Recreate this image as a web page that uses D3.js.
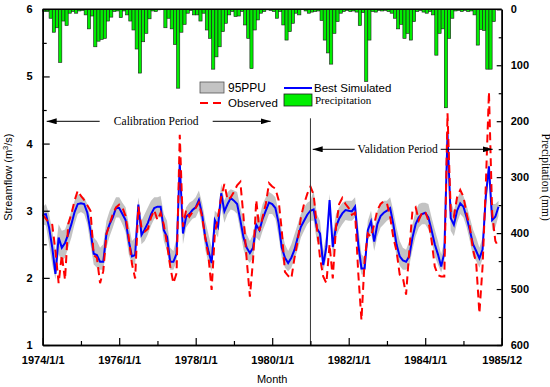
<!DOCTYPE html>
<html>
<head>
<meta charset="utf-8">
<script src="https://cdn.jsdelivr.net/npm/d3@7/dist/d3.min.js"></script>
<style>
  body { margin: 0; background: #fff; }
  text { font-family: "Liberation Sans", Arial, sans-serif; }
  .serif { font-family: "Liberation Serif", "Times New Roman", serif; }
</style>
</head>
<body>
<div id="chartContainer"></div>
<script>
// Axis labels
const xTickLabels = ["1974/1/1", "1976/1/1", "1978/1/1", "1980/1/1", "1982/1/1", "1984/1/1", "1985/12"];
const xTickMonths = [0, 24, 48, 72, 96, 120, 144];
const xMinorMonths = [12, 36, 60, 84, 108, 132];
const flowTicks = [1, 2, 3, 4, 5, 6];
const flowMinor = [1.5, 2.5, 3.5, 4.5, 5.5];
const precipTicks = [0, 100, 200, 300, 400, 500, 600];
const precipMinor = [50, 150, 250, 350, 450, 550];

// Monthly series, 1974/1 .. 1985/12 (one year per row)
const precipitation = [
  4, 4, 16, 41, 33, 95, 21, 29, 7, 4, 7, 3,
  2, 10, 35, 12, 67, 57, 54, 52, 21, 14, 4, 3,
  15, 3, 10, 21, 37, 71, 114, 58, 43, 17, 3, 4,
  1, 0, 33, 16, 35, 63, 141, 41, 27, 7, 2, 10,
  10, 21, 7, 37, 52, 107, 85, 67, 40, 25, 10, 4,
  13, 12, 4, 28, 52, 106, 37, 19, 7, 4, 1, 2,
  4, 16, 4, 28, 55, 40, 25, 7, 10, 0, 3, 7,
  5, 4, 3, 20, 55, 78, 98, 43, 22, 7, 4, 2,
  4, 3, 5, 29, 6, 129, 55, 4, 5, 2, 3, 2,
  4, 7, 16, 35, 27, 52, 43, 55, 22, 4, 2, 5,
  7, 4, 10, 82, 43, 35, 176, 52, 16, 3, 2, 4,
  2, 4, 3, 10, 64, 36, 38, 107, 107, 22, 0, 0
];

const observed = [
  2.94, 2.88, 2.82, 2.79, 2.40, 1.92, 2.34, 1.97, 2.80, 2.95, 3.15, 3.30,
  3.22, 3.16, 3.08, 3.00, 2.34, 2.30, 1.92, 2.10, 2.65, 2.80, 2.95, 3.05,
  3.09, 3.05, 2.92, 2.60, 2.21, 1.99, 3.06, 2.75, 2.69, 2.73, 2.90, 3.01,
  2.86, 2.97, 2.79, 2.50, 2.17, 1.92, 2.07, 4.13, 2.76, 3.01, 2.91, 2.98,
  3.04, 3.12, 2.91, 2.60, 2.32, 1.82, 2.66, 2.91, 3.20, 3.40, 3.16, 3.20,
  3.28, 3.38, 3.43, 2.91, 2.27, 1.72, 2.27, 3.16, 2.70, 2.91, 3.10, 3.41,
  3.36, 3.33, 3.16, 2.71, 2.09, 2.03, 1.99, 2.30, 2.55, 2.90, 3.10, 3.25,
  3.36, 3.24, 2.76, 2.30, 2.02, 1.92, 2.50, 1.99, 2.75, 3.10, 3.19, 3.10,
  3.04, 2.94, 2.97, 2.07, 1.37, 2.27, 2.66, 2.61, 2.80, 3.01, 3.10, 3.14,
  3.11, 2.91, 2.60, 2.40, 2.05, 2.00, 1.75, 2.40, 3.00, 3.05, 2.86, 2.97,
  2.99, 2.85, 2.56, 2.17, 2.04, 2.02, 2.02, 4.45, 3.00, 2.91, 3.20, 3.31,
  3.21, 2.95, 2.76, 2.42, 2.22, 1.47, 2.17, 3.36, 4.77, 2.97, 2.55, 2.46
];

const simulated = [
  2.94, 2.95, 2.75, 2.45, 2.06, 2.60, 2.45, 2.52, 2.65, 2.80, 2.98, 3.10,
  3.11, 3.10, 2.97, 2.70, 2.36, 2.34, 2.24, 2.24, 2.66, 2.80, 2.90, 3.04,
  3.04, 2.95, 2.86, 2.55, 2.32, 2.34, 3.09, 2.64, 2.72, 2.82, 2.95, 3.04,
  3.06, 3.06, 2.71, 2.61, 2.24, 2.24, 2.36, 3.71, 2.66, 2.91, 2.95, 3.01,
  3.05, 3.16, 2.95, 2.60, 2.40, 2.22, 2.86, 2.76, 3.26, 2.99, 3.10, 3.19,
  3.15, 3.10, 2.86, 2.60, 2.45, 2.37, 2.45, 2.79, 2.71, 2.88, 3.00, 3.12,
  3.10, 3.04, 2.82, 2.45, 2.30, 2.22, 2.30, 2.42, 2.60, 2.76, 2.85, 2.94,
  3.00, 3.02, 2.74, 2.66, 2.19, 2.46, 3.16, 2.46, 2.76, 2.88, 2.96, 3.01,
  3.00, 2.99, 3.06, 2.50, 2.14, 2.14, 2.71, 2.84, 2.54, 2.80, 2.92, 2.97,
  3.00, 3.04, 2.80, 2.50, 2.32, 2.26, 2.24, 2.32, 2.60, 2.80, 2.90, 2.95,
  2.97, 2.90, 2.71, 2.50, 2.35, 2.17, 2.37, 4.15, 2.89, 2.79, 3.00, 3.11,
  3.06, 2.90, 2.71, 2.50, 2.40, 2.29, 2.42, 3.21, 3.66, 2.86, 2.91, 3.06
];

const ppuUpper = [
  3.05, 3.10, 2.95, 2.70, 2.40, 2.80, 2.70, 2.72, 2.85, 3.00, 3.15, 3.25,
  3.22, 3.20, 3.10, 2.90, 2.60, 2.55, 2.45, 2.50, 2.85, 3.00, 3.10, 3.20,
  3.20, 3.12, 3.05, 2.80, 2.55, 2.60, 3.20, 2.85, 2.95, 3.05, 3.15, 3.20,
  3.20, 3.22, 2.95, 2.85, 2.45, 2.40, 2.60, 3.80, 2.85, 3.05, 3.12, 3.15,
  3.20, 3.30, 3.12, 2.85, 2.65, 2.45, 3.00, 2.95, 3.40, 3.15, 3.28, 3.32,
  3.30, 3.28, 3.05, 2.85, 2.65, 2.55, 2.65, 2.95, 2.90, 3.10, 3.20, 3.28,
  3.25, 3.20, 3.00, 2.70, 2.50, 2.40, 2.50, 2.65, 2.80, 2.95, 3.05, 3.12,
  3.15, 3.30, 2.95, 2.85, 2.40, 2.65, 3.25, 2.65, 2.95, 3.05, 3.12, 3.15,
  3.15, 3.15, 3.20, 2.75, 2.35, 2.30, 2.85, 3.00, 2.72, 3.00, 3.10, 3.15,
  3.15, 3.20, 3.00, 2.75, 2.55, 2.45, 2.42, 2.55, 2.80, 3.00, 3.10, 3.12,
  3.12, 3.10, 2.90, 2.72, 2.55, 2.35, 2.55, 4.25, 3.15, 3.00, 3.18, 3.28,
  3.22, 3.08, 2.90, 2.72, 2.60, 2.45, 2.60, 3.35, 3.75, 3.10, 3.10, 3.15
];

const ppuLower = [
  2.80, 2.78, 2.50, 2.20, 1.98, 2.35, 2.25, 2.30, 2.45, 2.60, 2.80, 2.95,
  2.98, 2.95, 2.80, 2.50, 2.20, 2.15, 2.12, 2.12, 2.45, 2.62, 2.75, 2.90,
  2.90, 2.80, 2.68, 2.35, 2.20, 2.20, 2.90, 2.50, 2.55, 2.65, 2.78, 2.88,
  2.90, 2.90, 2.55, 2.40, 2.12, 2.12, 2.25, 3.55, 2.50, 2.75, 2.82, 2.88,
  2.90, 3.00, 2.78, 2.42, 2.22, 2.10, 2.68, 2.60, 3.05, 2.82, 2.95, 3.02,
  3.00, 2.95, 2.70, 2.42, 2.28, 2.22, 2.30, 2.60, 2.55, 2.70, 2.82, 2.95,
  2.95, 2.88, 2.62, 2.30, 2.15, 2.10, 2.15, 2.28, 2.42, 2.60, 2.70, 2.80,
  2.85, 2.85, 2.55, 2.50, 2.10, 2.30, 3.00, 2.32, 2.60, 2.72, 2.80, 2.86,
  2.85, 2.85, 2.90, 2.32, 2.05, 2.05, 2.55, 2.68, 2.40, 2.62, 2.75, 2.80,
  2.85, 2.88, 2.62, 2.32, 2.18, 2.12, 2.12, 2.18, 2.42, 2.62, 2.75, 2.80,
  2.80, 2.72, 2.55, 2.32, 2.20, 2.08, 2.22, 4.00, 2.70, 2.62, 2.82, 2.95,
  2.90, 2.75, 2.55, 2.32, 2.25, 2.15, 2.28, 3.05, 3.50, 2.70, 2.75, 2.92
];

// Set chart dimensions
const w = 550;
const h = 387;
const margins = { top: 9.3, left: 42.7, right: 48.3, bottom: 42 };
const innerWidth = w - margins.left - margins.right;
const innerHeight = h - margins.top - margins.bottom;

const svg = d3.select("#chartContainer")
  .append("svg")
    .attr("width", w)
    .attr("height", h);

const defs = svg.append("defs");
defs.append("marker")
    .attr("id", "arrow")
    .attr("viewBox", "0 0 10 6")
    .attr("refX", 10)
    .attr("refY", 3)
    .attr("markerWidth", 10)
    .attr("markerHeight", 6)
    .attr("markerUnits", "userSpaceOnUse")
    .attr("orient", "auto-start-reverse")
  .append("path")
    .attr("d", "M0,0 L10,3 L0,6 Z")
    .attr("fill", "#000");

const mainG = svg.append("g")
  .attr("transform", `translate(${margins.left}, ${margins.top})`);

// Scales
const xScale = d3.scaleLinear().domain([0, 144]).range([0, innerWidth]);
const yFlow = d3.scaleLinear().domain([1, 6]).range([innerHeight, 0]);
const yPrecip = d3.scaleLinear().domain([0, 600]).range([0, innerHeight]);

// 95PPU band
const band = d3.area()
  .x((d, i) => xScale(i))
  .y0((d, i) => yFlow(ppuLower[i]))
  .y1(d => yFlow(d));

mainG.append("path")
  .datum(ppuUpper)
  .attr("d", band)
  .attr("fill", "#c3c3c3");

// Precipitation bars hanging from the top
mainG.selectAll(".bar")
  .data(precipitation)
  .enter()
  .append("rect")
    .attr("class", "bar")
    .attr("x", (d, i) => xScale(i))
    .attr("y", 0)
    .attr("width", xScale(1) - xScale(0))
    .attr("height", d => yPrecip(d))
    .attr("fill", "#00ee00")
    .attr("stroke", "#1a1a1a")
    .attr("stroke-width", 0.6);

// Best simulated
const line = d3.line()
  .x((d, i) => xScale(i))
  .y(d => yFlow(d));

mainG.append("path")
  .datum(simulated)
  .attr("d", line)
  .attr("fill", "none")
  .attr("stroke", "#0000ff")
  .attr("stroke-width", 2);

// Observed
mainG.append("path")
  .datum(observed)
  .attr("d", line)
  .attr("fill", "none")
  .attr("stroke", "#ff0000")
  .attr("stroke-width", 2)
  .attr("stroke-dasharray", "8,5");

// Calibration / validation split
const splitX = xScale(84);
mainG.append("line")
  .attr("x1", splitX).attr("x2", splitX)
  .attr("y1", 109).attr("y2", innerHeight)
  .attr("stroke", "#333")
  .attr("stroke-width", 1);

// Period labels with arrows
function periodArrow(x1, x2, y) {
  mainG.append("line")
    .attr("x1", x1).attr("x2", x2)
    .attr("y1", y).attr("y2", y)
    .attr("stroke", "#000")
    .attr("stroke-width", 1)
    .attr("marker-end", "url(#arrow)");
}
periodArrow(57, 4, 112);
periodArrow(170, 228, 112);
mainG.append("text")
  .attr("class", "serif")
  .attr("x", 113.5).attr("y", 116)
  .attr("text-anchor", "middle")
  .attr("font-size", 11.5)
  .text("Calibration Period");

periodArrow(312, 270, 140);
periodArrow(398, 450, 140);
mainG.append("text")
  .attr("class", "serif")
  .attr("x", 355).attr("y", 144)
  .attr("text-anchor", "middle")
  .attr("font-size", 11.5)
  .text("Validation Period");

// Axes
const axisStyle = g => {
  g.select(".domain").attr("stroke-width", 1.5);
  g.selectAll(".tick line").attr("stroke-width", 1.2);
  g.selectAll("text")
    .attr("font-size", 11)
    .attr("font-weight", "bold")
    .attr("font-family", "'Liberation Sans', Arial, sans-serif")
    .attr("fill", "#000");
};

mainG.append("g")
  .call(d3.axisLeft(yFlow).tickValues(flowTicks).tickSize(-7).tickSizeOuter(0).tickPadding(10).tickFormat(d3.format("d")))
  .call(axisStyle);
mainG.append("g")
  .call(d3.axisLeft(yFlow).tickValues(flowMinor).tickSize(-4).tickSizeOuter(0).tickFormat(""))
  .call(axisStyle);

mainG.append("g")
  .attr("transform", `translate(${innerWidth}, 0)`)
  .call(d3.axisRight(yPrecip).tickValues(precipTicks).tickSize(-5).tickSizeOuter(0).tickPadding(9))
  .call(axisStyle);
mainG.append("g")
  .attr("transform", `translate(${innerWidth}, 0)`)
  .call(d3.axisRight(yPrecip).tickValues(precipMinor).tickSize(-3).tickSizeOuter(0).tickFormat(""))
  .call(axisStyle);

mainG.append("g")
  .attr("transform", `translate(0, ${innerHeight})`)
  .call(d3.axisBottom(xScale).tickValues(xTickMonths).tickSize(-7).tickSizeOuter(0).tickPadding(11)
    .tickFormat((d, i) => xTickLabels[i]))
  .call(axisStyle);
mainG.append("g")
  .attr("transform", `translate(0, ${innerHeight})`)
  .call(d3.axisBottom(xScale).tickValues(xMinorMonths).tickSize(-4).tickSizeOuter(0).tickFormat(""))
  .call(axisStyle);

// Top frame
mainG.append("line")
  .attr("x1", 0).attr("x2", innerWidth)
  .attr("y1", 0).attr("y2", 0)
  .attr("stroke", "#000")
  .attr("stroke-width", 1.5);

// Axis titles
mainG.append("text")
  .attr("x", innerWidth / 2)
  .attr("y", innerHeight + 38)
  .attr("text-anchor", "middle")
  .attr("font-size", 11)
  .text("Month");

const leftTitle = mainG.append("text")
  .attr("transform", `translate(${-31}, ${innerHeight / 2}) rotate(-90)`)
  .attr("text-anchor", "middle")
  .attr("font-size", 11);
leftTitle.append("tspan").text("Streamflow (m");
leftTitle.append("tspan").attr("font-size", 7.5).attr("dy", -4).text("3");
leftTitle.append("tspan").attr("dy", 4).text("/s)");

mainG.append("text")
  .attr("class", "serif")
  .attr("transform", `translate(${innerWidth + 40}, ${innerHeight / 2}) rotate(90)`)
  .attr("text-anchor", "middle")
  .attr("font-size", 11.5)
  .text("Precipitation (mm)");

// Legend
const legendG = svg.append("g");
legendG.append("rect")
  .attr("x", 200).attr("y", 82).attr("width", 24).attr("height", 11)
  .attr("fill", "#c3c3c3").attr("stroke", "#555").attr("stroke-width", 0.8);
legendG.append("text")
  .attr("x", 228).attr("y", 92).attr("font-size", 12).text("95PPU");

legendG.append("line")
  .attr("x1", 200).attr("x2", 224).attr("y1", 103).attr("y2", 103)
  .attr("stroke", "#ff0000").attr("stroke-width", 2).attr("stroke-dasharray", "8,5");
legendG.append("text")
  .attr("x", 228).attr("y", 107).attr("font-size", 11.5).text("Observed");

legendG.append("line")
  .attr("x1", 284).attr("x2", 312).attr("y1", 88).attr("y2", 88)
  .attr("stroke", "#0000ff").attr("stroke-width", 2);
legendG.append("text")
  .attr("x", 314).attr("y", 92).attr("font-size", 11.5).text("Best Simulated");

legendG.append("rect")
  .attr("x", 284).attr("y", 94).attr("width", 28).attr("height", 12)
  .attr("fill", "#00ee00").attr("stroke", "#1a1a1a").attr("stroke-width", 0.8);
legendG.append("text")
  .attr("class", "serif")
  .attr("x", 315).attr("y", 104).attr("font-size", 11).text("Precipitation");
</script>
</body>
</html>
